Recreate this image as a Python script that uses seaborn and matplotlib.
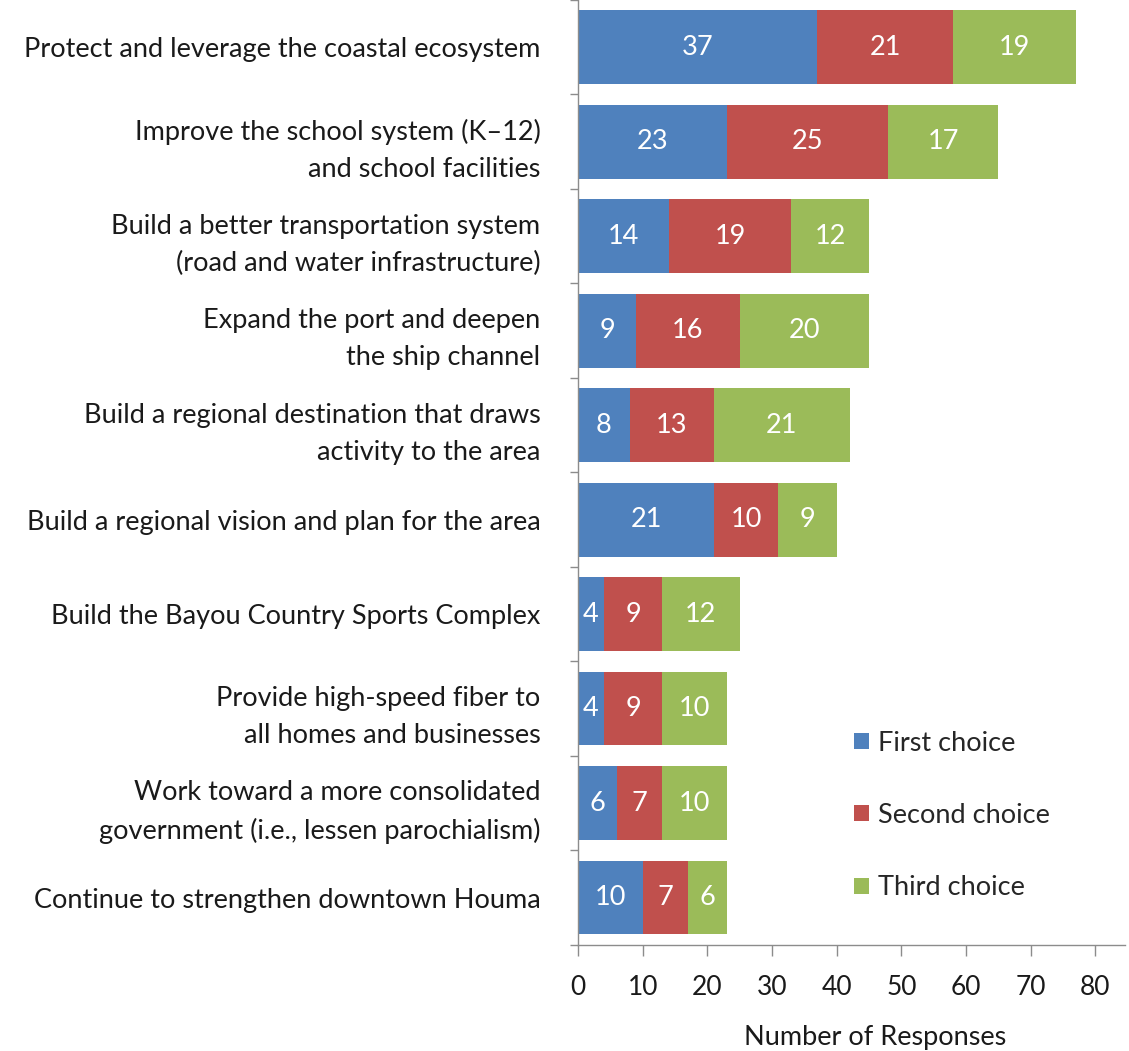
import numpy as np
import pandas as pd
import matplotlib
matplotlib.use("Agg")
import matplotlib.pyplot as plt
from matplotlib.ticker import FixedLocator
import seaborn as sns

# survey data, top to bottom
categories = [
    "Protect and leverage the coastal ecosystem",
    "Improve the school system (K\u201312)\nand school facilities",
    "Build a better transportation system\n(road and water infrastructure)",
    "Expand the port and deepen\nthe ship channel",
    "Build a regional destination that draws\nactivity to the area",
    "Build a regional vision and plan for the area",
    "Build the Bayou Country Sports Complex",
    "Provide high-speed fiber to\nall homes and businesses",
    "Work toward a more consolidated\ngovernment (i.e., lessen parochialism)",
    "Continue to strengthen downtown Houma",
]
first_choice = [37, 23, 14, 9, 8, 21, 4, 4, 6, 10]
second_choice = [21, 25, 19, 16, 13, 10, 9, 9, 7, 7]
third_choice = [19, 17, 12, 20, 21, 9, 12, 10, 10, 6]
series_names = ["First choice", "Second choice", "Third choice"]
x_ticks = [0, 10, 20, 30, 40, 50, 60, 70, 80]

colors = ["#4F81BD", "#C0504D", "#9BBB59"]
axis_grey = "#8C8C8C"
text_col = "#1a1a1a"

sns.set_theme(style="white")
plt.rcParams["font.family"] = ["Lato", "DejaVu Sans"]

df = pd.DataFrame({
    "category": categories,
    "first": first_choice,
    "second": second_choice,
    "third": third_choice,
})
df["cum1"] = df["first"]
df["cum2"] = df["first"] + df["second"]
df["cum3"] = df["cum2"] + df["third"]

fig = plt.figure(figsize=(11.29, 10.51), dpi=100)
ax = fig.add_axes([0.512, 0.101, 0.4845, 0.899])

# stacked bars: draw totals first, then overlay the shorter sums
layers = [("cum3", "third", colors[2], series_names[2]),
          ("cum2", "second", colors[1], series_names[1]),
          ("cum1", "first", colors[0], series_names[0])]
for cum_col, val_col, col, name in layers:
    sns.barplot(data=df, x=cum_col, y="category", orient="h", color=col,
                width=0.78, saturation=1, label=name, linewidth=0, ax=ax)

# value labels in the middle of each segment
for cum_col, val_col, col, name in layers:
    for i, (c, v) in enumerate(zip(df[cum_col], df[val_col])):
        ax.text(c - v / 2, i, str(v), ha="center", va="center",
                color="white", fontsize=19.5)

ax.set_xlim(0, 84.6)
ax.set_ylim(len(categories) - 0.5, -0.5)
ax.set_xticks(x_ticks)
ax.set_xlabel("")
ax.set_ylabel("")

ax.tick_params(axis="x", direction="out", length=8, width=1, color=axis_grey,
               labelsize=19, pad=14, bottom=True, labelcolor=text_col)
ax.tick_params(axis="y", which="major", length=0, labelsize=19.5, pad=27,
               labelcolor=text_col)
ax.yaxis.set_minor_locator(FixedLocator(np.arange(-0.5, len(categories), 1.0)))
ax.tick_params(axis="y", which="minor", direction="out", length=6, width=1,
               color=axis_grey, left=True)
for lbl in ax.get_yticklabels():
    lbl.set_horizontalalignment("right")
    lbl.set_multialignment("right")
    lbl.set_linespacing(1.6)

for side in ["top", "right"]:
    ax.spines[side].set_visible(False)
for side in ["left", "bottom"]:
    ax.spines[side].set_color(axis_grey)
    ax.spines[side].set_linewidth(1)

ax.text(0.543, -0.098, "Number of Responses", transform=ax.transAxes,
        ha="center", va="center", fontsize=19.5, color=text_col)

handles, labels = ax.get_legend_handles_labels()
order = [labels.index(n) for n in series_names]
ax.legend([handles[i] for i in order], [labels[i] for i in order],
          loc="center left", bbox_to_anchor=(0.46, 0.137), frameon=False,
          fontsize=19.5, handlelength=0.55, handleheight=0.55, handletextpad=0.35,
          labelspacing=1.75)

fig.savefig("out.png", dpi=100)
